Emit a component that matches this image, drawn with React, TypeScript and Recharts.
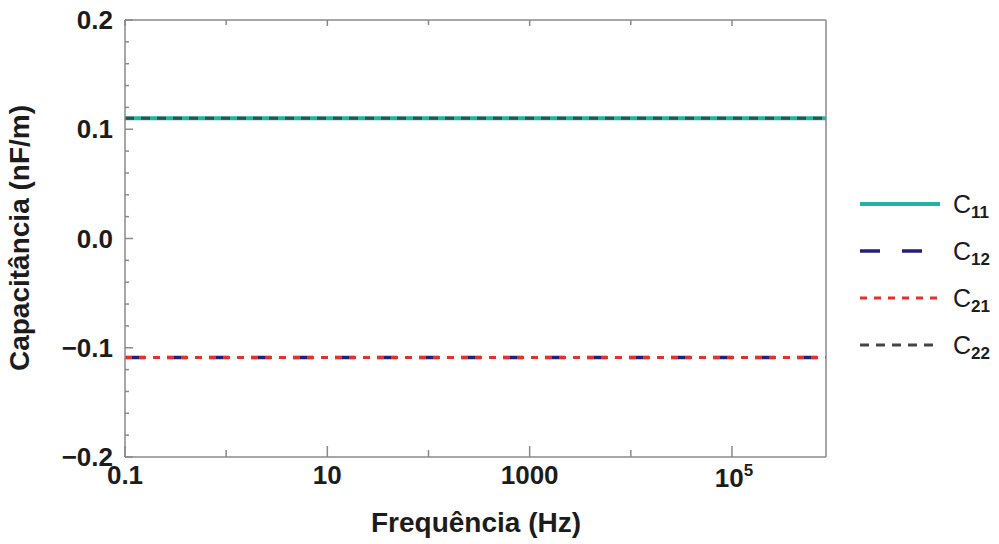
import { LineChart, Line, XAxis, YAxis } from 'recharts';

const freqs = [0.1, 1, 10, 100, 1000, 10000, 100000, 850000];
const c11 = [0.11, 0.11, 0.11, 0.11, 0.11, 0.11, 0.11, 0.11];
const c12 = [-0.109, -0.109, -0.109, -0.109, -0.109, -0.109, -0.109, -0.109];
const c21 = [-0.109, -0.109, -0.109, -0.109, -0.109, -0.109, -0.109, -0.109];
const c22 = [0.11, 0.11, 0.11, 0.11, 0.11, 0.11, 0.11, 0.11];

const xMajor = [0.1, 10, 1000, 100000];
const xMinor = [1, 100, 10000];
const yMajor = [-0.2, -0.1, 0, 0.1, 0.2];
const yMinor = [-0.18, -0.16, -0.14, -0.12, -0.08, -0.06, -0.04, -0.02, 0.02, 0.04, 0.06, 0.08, 0.12, 0.14, 0.16, 0.18];
const yLabels = ['\u22120.2', '\u22120.1', '0.0', '0.1', '0.2'];

const series = [
  { key: 'c11', name: '11', color: '#22b2a6', dash: undefined, width: 4 },
  { key: 'c12', name: '12', color: '#20207a', dash: '20 22', width: 3.5 },
  { key: 'c21', name: '21', color: '#ea2f2a', dash: '7 7', width: 3 },
  { key: 'c22', name: '22', color: '#464646', dash: '9 7', width: 3 },
];

const data = freqs.map((f, i) => ({ f, c11: c11[i], c12: c12[i], c21: c21[i], c22: c22[i] }));

const FONT = 'Liberation Sans, Arial, sans-serif';
const FRAME = '#8a8a8a';
const TXT = '#1c1c1c';
const TICK_FS = 26;

const isMajor = (list: number[], v: number) => list.some((m) => Math.abs(m - v) < 1e-9);

function BottomTick(props: any) {
  const { x, y, payload } = props;
  const v = payload.value;
  const major = isMajor(xMajor, v);
  const len = major ? 11 : 7;
  let label: any = null;
  if (major) {
    label =
      v === 100000 ? (
        <text x={x + 2} y={y + 30} textAnchor="middle" fontFamily={FONT} fontWeight="bold" fontSize={TICK_FS} fill={TXT}>
          10<tspan dy={-11} fontSize={17}>5</tspan>
        </text>
      ) : (
        <text x={x} y={y + 27} textAnchor="middle" fontFamily={FONT} fontWeight="bold" fontSize={TICK_FS} fill={TXT}>
          {String(v)}
        </text>
      );
  }
  return (
    <g>
      <line x1={x} x2={x} y1={y} y2={y - len} stroke={FRAME} strokeWidth={1.5} />
      {label}
    </g>
  );
}

function TopTick(props: any) {
  const { x, y, payload } = props;
  const len = isMajor(xMajor, payload.value) ? 6 : 5;
  return <line x1={x} x2={x} y1={y} y2={y + len} stroke={FRAME} strokeWidth={1.5} />;
}

function LeftTick(props: any) {
  const { x, y, payload } = props;
  const v = payload.value;
  const idx = yMajor.findIndex((m) => Math.abs(m - v) < 1e-9);
  const len = idx >= 0 ? 8 : 4;
  return (
    <g>
      <line x1={x} x2={x + len} y1={y} y2={y} stroke={FRAME} strokeWidth={1.5} />
      {idx >= 0 && (
        <text x={x - 12} y={y + 9} textAnchor="end" fontFamily={FONT} fontWeight="bold" fontSize={TICK_FS} fill={TXT}>
          {yLabels[idx]}
        </text>
      )}
    </g>
  );
}

function RightTick(props: any) {
  const { x, y, payload } = props;
  const len = isMajor(yMajor, payload.value) ? 8 : 4;
  return <line x1={x} x2={x - len} y1={y} y2={y} stroke={FRAME} strokeWidth={1.5} />;
}

function LegendBox() {
  return (
    <svg width={150} height={200} style={{ position: 'absolute', left: 858, top: 188 }}>
      {series.map((s, i) => {
        const y = 16 + i * 47;
        return (
          <g key={s.key}>
            <line x1={2} x2={82} y1={y} y2={y} stroke={s.color} strokeWidth={s.width} strokeDasharray={s.dash} />
            <text x={95} y={y + 9} fontFamily={FONT} fontSize={25} fill={TXT}>
              C<tspan dy={5} fontSize={17} fontWeight="bold">{s.name}</tspan>
            </text>
          </g>
        );
      })}
    </svg>
  );
}

export default function App() {
  const xTicks = [...xMajor, ...xMinor].sort((a, b) => a - b);
  const yTicks = [...yMajor, ...yMinor].sort((a, b) => a - b);
  return (
    <div style={{ position: 'absolute', left: 0, top: 0, width: 999, height: 544, background: '#fff' }}>
      <LineChart width={999} height={544} data={data} margin={{ top: 19, right: 172, left: 124, bottom: 86 }}>
        <XAxis
          xAxisId="b"
          dataKey="f"
          type="number"
          scale="log"
          domain={[0.1, 850000]}
          allowDataOverflow
          ticks={xTicks}
          interval={0}
          height={1}
          tickSize={0}
          tickMargin={0}
          tickLine={false}
          axisLine={{ stroke: FRAME, strokeWidth: 1.5 }}
          tick={<BottomTick />}
        />
        <XAxis
          xAxisId="t"
          orientation="top"
          dataKey="f"
          type="number"
          scale="log"
          domain={[0.1, 850000]}
          allowDataOverflow
          ticks={xTicks}
          interval={0}
          height={1}
          tickSize={0}
          tickMargin={0}
          tickLine={false}
          axisLine={{ stroke: FRAME, strokeWidth: 1.5 }}
          tick={<TopTick />}
        />
        <YAxis
          yAxisId="l"
          type="number"
          domain={[-0.2, 0.2]}
          ticks={yTicks}
          interval={0}
          width={1}
          tickSize={0}
          tickMargin={0}
          tickLine={false}
          axisLine={{ stroke: FRAME, strokeWidth: 1.5 }}
          tick={<LeftTick />}
        />
        <YAxis
          yAxisId="r"
          orientation="right"
          type="number"
          domain={[-0.2, 0.2]}
          ticks={yTicks}
          interval={0}
          width={1}
          tickSize={0}
          tickMargin={0}
          tickLine={false}
          axisLine={{ stroke: FRAME, strokeWidth: 1.5 }}
          tick={<RightTick />}
        />
        {series.map((s) => (
          <Line
            key={s.key}
            xAxisId="b"
            yAxisId="l"
            dataKey={s.key}
            stroke={s.color}
            strokeWidth={s.width}
            strokeDasharray={s.dash}
            dot={false}
            activeDot={false}
            isAnimationActive={false}
          />
        ))}
        <text x={22} y={238} transform="rotate(-90 22 238)" textAnchor="middle" dominantBaseline="middle" fontFamily={FONT} fontWeight="bold" fontSize={28} fill={TXT}>
          Capacitância (nF/m)
        </text>
        <text x={476} y={532} textAnchor="middle" fontFamily={FONT} fontWeight="bold" fontSize={28} fill={TXT}>
          Frequência (Hz)
        </text>
      </LineChart>
      <LegendBox />
    </div>
  );
}
